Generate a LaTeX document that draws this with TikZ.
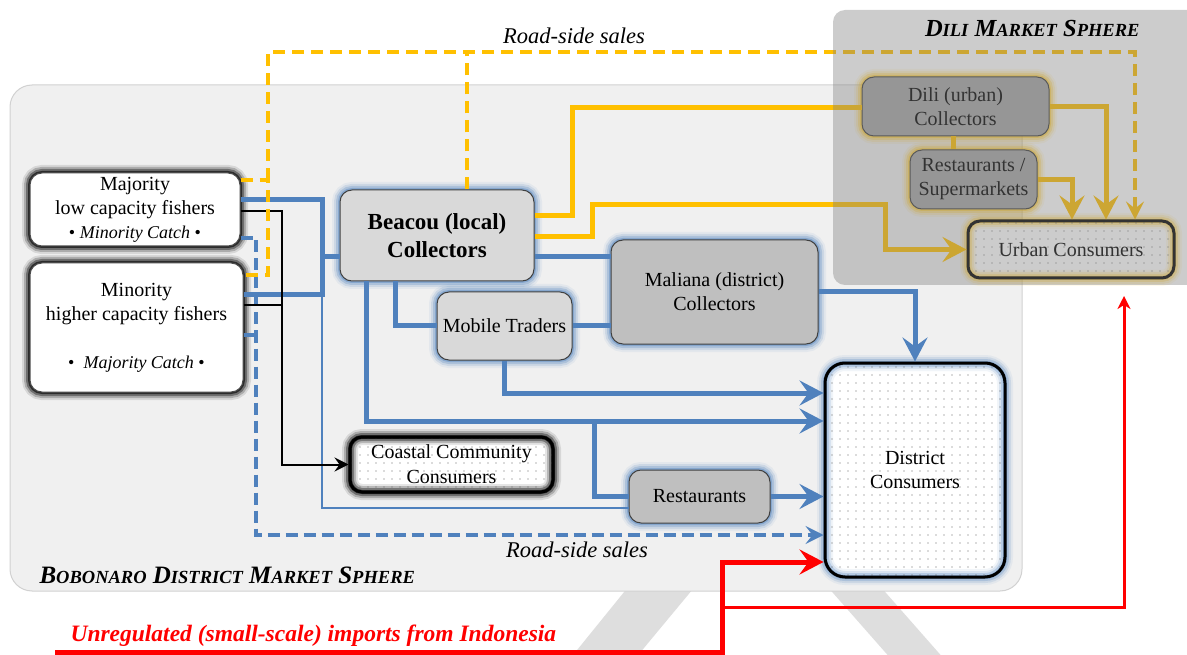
\documentclass[tikz,border=0pt]{standalone}
\usepackage{fontspec}
\setmainfont{Liberation Serif}
\usetikzlibrary{arrows.meta,patterns.meta}
\definecolor{bluel}{RGB}{79,129,189}
\definecolor{gold}{RGB}{255,192,0}
\definecolor{lgray}{RGB}{217,217,217}
\definecolor{mgray}{RGB}{191,191,191}
\definecolor{dgray}{RGB}{166,166,166}
\definecolor{panelgray}{RGB}{240,240,240}
\definecolor{darkline}{RGB}{64,64,64}
\newcommand{\fakesc}[2]{#1{\fontsize{18.5}{18.5}\selectfont#2}}

\begin{document}
\begin{tikzpicture}[x=1pt,y=-1pt,font=\fontsize{20}{24}\selectfont,
 >={Stealth[length=24pt,width=25pt,inset=9pt]},
 glow/.style={preaction={draw=#1,line width=16pt,opacity=.08},preaction={draw=#1,line width=12pt,opacity=.15},preaction={draw=#1,line width=8pt,opacity=.25},preaction={draw=#1,line width=4pt,opacity=.4}},
 darkglow/.style={preaction={draw=black,line width=16pt,opacity=.1},preaction={draw=black,line width=12pt,opacity=.2},preaction={draw=black,line width=8pt,opacity=.35},preaction={draw=black,line width=4pt,opacity=.6}},
 box/.style={rectangle,rounded corners=12pt,inner sep=0pt,align=center,draw=darkline,line width=1pt},
 dotbox/.style={box,preaction={fill=white},pattern={Dots[distance=8pt,radius=0.7pt]},pattern color=black!60,draw=black,line width=3pt},
 flowblue/.style={draw=bluel,line width=5pt},
 thinblue/.style={draw=bluel,line width=1.5pt},
 dashblue/.style={draw=bluel,line width=4pt,dash pattern=on 12pt off 6pt},
 flowgold/.style={draw=gold,line width=5pt},
 dashgold/.style={draw=gold,line width=4pt,dash pattern=on 12pt off 7pt},
 flowblack/.style={draw=black,line width=2pt},
 flowred/.style={draw=red,line width=5pt}]
\useasboundingbox (0,0) rectangle (1187,655);
% watermark and panel
\fill[black!13,rounded corners=6pt] (650,560) -- (717,560) -- (634,660) -- (569,660) -- cycle;
\fill[black!13,rounded corners=6pt] (804,560) -- (857,560) -- (945,660) -- (892,660) -- cycle;
\filldraw[fill=panelgray,draw=black!18,line width=1pt,rounded corners=22pt] (10,85) rectangle (1022,591);
\node[anchor=base west,font=\fontsize{25}{25}\selectfont\bfseries\itshape] (bobolbl) at (36,583) {\fakesc{B}{OBONARO} \fakesc{D}{ISTRICT} \fakesc{M}{ARKET} \fakesc{S}{PHERE}};

% fishers and traders
\node[box,darkglow,fill=white,draw=black!70,minimum width=210pt,minimum height=73pt] (maj) at (135,209.5) {Majority\\low capacity fishers\\{\fontsize{18}{20}\selectfont\textbullet\ \textit{Minority Catch}\ \textbullet}};
\node[box,darkglow,fill=white,draw=black!70,minimum width=213pt,minimum height=129pt] (mnr) at (136.5,327.5) {Minority\\higher capacity fishers\\[24pt]{\fontsize{18}{20}\selectfont\textbullet\ \ \textit{Majority Catch}\ \textbullet}};
\node[box,glow=bluel,fill=lgray,minimum width=194pt,minimum height=91pt,font=\fontsize{23}{28}\selectfont\bfseries] (bea) at (437,235.5) {Beacou (local)\\Collectors};
\node[box,glow=bluel,fill=mgray,minimum width=207pt,minimum height=104pt] (mal) at (714.5,292) {Maliana (district)\\Collectors};
\node[box,glow=bluel,fill=lgray,minimum width=135pt,minimum height=68pt] (mob) at (504.5,326) {Mobile Traders};
\node[dotbox,darkglow,minimum width=203pt,minimum height=55pt,font=\fontsize{20}{25}\selectfont] (coa) at (451.5,464.5) {Coastal Community\\Consumers};
\node[box,glow=bluel,fill=mgray,minimum width=141pt,minimum height=53pt] (res) at (699.5,496.5) {Restaurants};
\node[dotbox,glow=bluel,rounded corners=20pt,minimum width=180pt,minimum height=214pt] (dis) at (915,470) {District\\Consumers};
\node[box,glow=gold,fill=dgray,minimum width=187pt,minimum height=59pt] (dil) at (955.5,106.5) {Dili (urban)\\Collectors};
\node[box,glow=gold,fill=dgray,minimum width=127pt,minimum height=59pt] (sup) at (973.5,179.5) {Restaurants /\\Supermarkets};
\node[dotbox,glow=gold,minimum width=206pt,minimum height=57pt] (urb) at (1071,249.5) {Urban Consumers};

% blue flows
\draw[flowblue] (maj.east |- 0,200) -- (322,200) -- (322,295) -- (mnr.east |- 0,295);
\draw[flowblue] (322,257) -- (bea.west |- 0,257);
\draw[flowblue] (bea.east |- 0,257) -- (mal.west |- 0,257);
\draw[flowblue] (bea.south -| 395,0) |- (mob.west);
\draw[flowblue] (mob.east) -- (mal.west |- mob.east);
\draw[flowblue,->] (mob.south) |- (dis.west |- 0,393);
\draw[flowblue,->] (bea.south -| 366,0) |- (dis.west |- 0,421);
\draw[flowblue] (594,421) |- (res.west);
\draw[flowblue,->] (res.east) -- (dis.west |- res.east);
\draw[flowblue,->] (mal.east) -| (dis.north);
\draw[thinblue] (322,295) |- (res.west |- 0,508);
\draw[dashblue] (mnr.east |- 0,335) -- (256,335);
\draw[dashblue,-{Stealth[length=18pt,width=18pt,inset=7pt]}] (maj.east |- 0,238) -- (256,238) |- (dis.west |- 0,535);
\node[anchor=base,font=\fontsize{22.5}{22.5}\selectfont\itshape] (roadlow) at (577,557) {Road-side sales};

% black flow
\draw[flowblack] (mnr.east |- 0,305) -- (282,305);
\draw[flowblack,-{Stealth[length=14pt,width=14pt,inset=5pt]}] (maj.east |- 0,211) -- (282,211) |- (coa.west);

% gold flows
\draw[dashgold] (maj.east |- 0,180) -- (268,180) -- (268,275) -- (mnr.east |- 0,275);
\draw[dashgold] (bea.north -| 467,0) -- (467,52);
\draw[dashgold,-{Stealth[length=18pt,width=18pt,inset=7pt]}] (268,180) -- (268,52) -| (urb.north -| 1135,0);
\node[anchor=base,font=\fontsize{22.5}{22.5}\selectfont\itshape] (roadtop) at (574,44) {Road-side sales};
\draw[flowgold] (bea.east |- 0,216) -- (572,216) |- (dil.west |- 0,108);
\draw[flowgold,->] (bea.east |- 0,237) -- (592,237) -- (592,205) -- (885,205) |- (urb.west);
\draw[flowgold,->] (dil.east) -| (urb.north -| 1106,0);
\draw[flowgold] (dil.south -| 953,0) -- (sup.north -| 953,0);
\draw[flowgold,->] (sup.east) -| (urb.north -| 1072,0);

% imports
\coordinate (imp) at (55,652);
\coordinate (urbup) at (1124,296);
\node[anchor=base west,text=red,font=\fontsize{23.5}{23.5}\selectfont\bfseries\itshape] (implbl) at (67,641) {Unregulated (small-scale) imports from Indonesia};
\draw[flowred,->] (imp) -- (722,652) |- (dis.west |- 0,562);
\draw[draw=red,line width=3pt,-{Stealth[length=13pt,width=13pt,inset=4pt]}] (722,607) -| (urbup);

% dili sphere
\fill[black!50,fill opacity=.4,rounded corners=12pt] (833,10) rectangle (1200,285);
\node[anchor=base east,font=\fontsize{24.5}{24.5}\selectfont\bfseries\itshape] (dililbl) at (1143,37) {\fakesc{D}{ILI} \fakesc{M}{ARKET} \fakesc{S}{PHERE}};
\end{tikzpicture}
\end{document}
